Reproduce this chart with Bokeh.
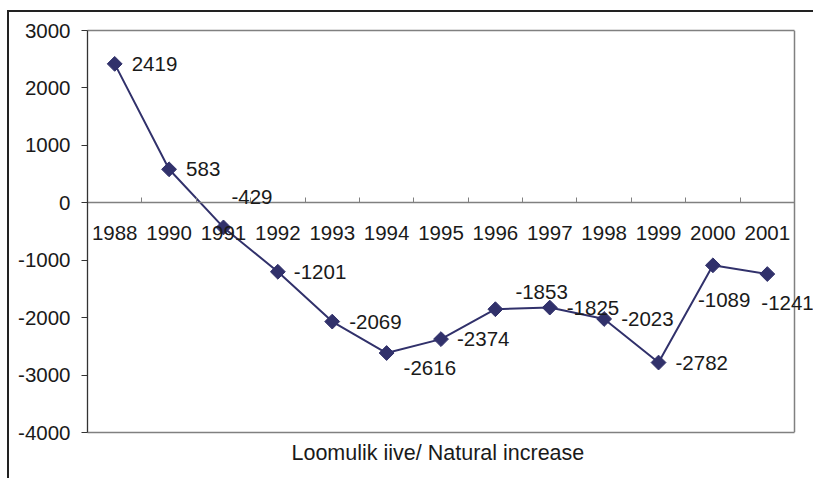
import math
from bokeh.plotting import figure
from bokeh.models import (ColumnDataSource, LinearAxis, FixedTicker, Range1d, Title, Label)
from bokeh.embed import file_html
from bokeh.resources import INLINE

years = ["1988", "1990", "1991", "1992", "1993", "1994", "1995", "1996",
         "1997", "1998", "1999", "2000", "2001"]
natural_increase = [2419, 583, -429, -1201, -2069, -2616, -2374, -1853,
                    -1825, -2023, -2782, -1089, -1241]
y_ticks = [-4000, -3000, -2000, -1000, 0, 1000, 2000, 3000]
title_text = "Loomulik iive/ Natural increase"

# label placement (screen px, relative to marker; dy positive = down)
label_dx = [17, 17, 8, 16, 17, 17, 16, 20, 17, 17, 17, -15, -6]
label_dy = [0, 0, -30, 0, 0, 15, 0, -17, 0, 0, 0, 35, 29]

FONT = "Liberation Sans"
FS = "20.5px"
LINE_COLOR = "#31316b"
TXT = "#1a1a1a"
GRAY = "#808080"

N = len(years)
W, H = 806, 468
ML, MR, MT, MB = 78, 0, 18, 48
FRAME_W = W - ML - MR
CAT_W = 707 / N                     # px per category in the plot area
X_MAX = FRAME_W / CAT_W             # frame extends past plot area (room for labels)

xs = [i + 0.5 for i in range(N)]
src = ColumnDataSource(dict(x=xs, y=natural_increase))

p = figure(width=W, height=H,
           x_range=Range1d(0, X_MAX), y_range=Range1d(-4000, 3000),
           output_backend="svg", toolbar_location=None,
           x_axis_location=None, y_axis_location=None,
           min_border_left=ML, min_border_right=MR,
           min_border_top=MT, min_border_bottom=MB)
p.grid.visible = False
p.outline_line_color = None
p.background_fill_color = "white"
p.border_fill_color = "white"
p.styles = {"border-left": "2.5px solid #222222", "border-top": "2.5px solid #222222",
            "margin-left": "7px", "margin-top": "10px"}


def bare_axis(**kw):
    ax = LinearAxis(ticker=FixedTicker(ticks=[]), **kw)
    ax.axis_line_color = GRAY
    ax.axis_line_width = 1.5
    ax.major_tick_line_color = None
    ax.minor_tick_line_color = None
    ax.major_label_text_font_size = "0px"
    ax.major_tick_out = 0
    ax.major_tick_in = 0
    ax.major_label_standoff = 0
    return ax


# plot-area border (bottom, top, right)
p.add_layout(bare_axis(bounds=(0, N)), "below")
p.add_layout(bare_axis(bounds=(0, N)), "above")
p.add_layout(bare_axis(bounds=(-4000, 3000), fixed_location=N), "right")

# y axis
yax = LinearAxis(ticker=FixedTicker(ticks=y_ticks))
yax.axis_line_color = "#333333"
yax.axis_line_width = 1.3
yax.major_tick_line_color = "#333333"
yax.major_tick_in = 0
yax.major_tick_out = 6
yax.minor_tick_line_color = None
yax.major_label_overrides = {v: str(v) for v in y_ticks}
yax.major_label_text_font = FONT
yax.major_label_text_font_size = FS
yax.major_label_text_color = TXT
yax.major_label_standoff = 11
p.add_layout(yax, "left")

# x axis: tick marks at category boundaries, on zero line
xtick_ax = LinearAxis(ticker=FixedTicker(ticks=list(range(0, N + 1))),
                      fixed_location=0, bounds=(0, N))
xtick_ax.axis_line_color = GRAY
xtick_ax.axis_line_width = 1.5
xtick_ax.major_tick_line_color = GRAY
xtick_ax.major_tick_in = 5
xtick_ax.major_tick_out = 0
xtick_ax.minor_tick_line_color = None
xtick_ax.major_label_text_font_size = "0px"
xtick_ax.major_label_text_alpha = 0
p.add_layout(xtick_ax, "below")

# x axis: category labels at centers
xlab_ax = LinearAxis(ticker=FixedTicker(ticks=xs), fixed_location=0)
xlab_ax.axis_line_color = None
xlab_ax.major_tick_line_color = None
xlab_ax.minor_tick_line_color = None
xlab_ax.major_label_overrides = {x: y for x, y in zip(xs, years)}
xlab_ax.major_label_text_font = FONT
xlab_ax.major_label_text_font_size = FS
xlab_ax.major_label_text_color = TXT
xlab_ax.major_label_standoff = 17
p.add_layout(xlab_ax, "below")

p.line("x", "y", source=src, line_color=LINE_COLOR, line_width=2)
p.scatter("x", "y", source=src, marker="square", size=10.5, angle=math.pi / 4,
          fill_color=LINE_COLOR, line_color=LINE_COLOR)

for x, v, dx, dy in zip(xs, natural_increase, label_dx, label_dy):
    p.add_layout(Label(x=x, y=v, text=str(v), x_offset=dx, y_offset=-dy,
                       text_font=FONT, text_font_size=FS, text_color=TXT,
                       text_align="left", text_baseline="middle"))

t = Title(text=title_text, align="left", text_font=FONT, text_font_size="21.5px",
          text_font_style="normal", text_color=TXT, standoff=12, offset=204)
p.add_layout(t, "below")

open("out.html", "w").write(file_html(p, INLINE))
